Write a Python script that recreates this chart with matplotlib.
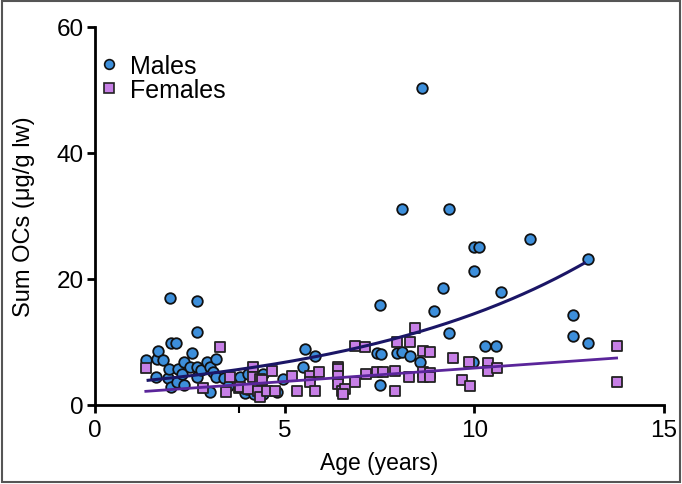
import numpy as np
import matplotlib
matplotlib.use("Agg")
import matplotlib.pyplot as plt
from matplotlib.lines import Line2D
from matplotlib.patches import Rectangle

plt.rcParams['font.family'] = ['Liberation Sans', 'DejaVu Sans']

# ---- data ----
male_age = [1.34, 1.61, 1.64, 1.67, 1.80, 1.92, 1.96, 1.98, 2.00, 2.00, 2.13, 2.15, 2.18,
            2.30, 2.35, 2.35, 2.50, 2.55, 2.68, 2.68, 2.68, 2.68, 2.80, 2.94, 3.03, 3.03,
            3.10, 3.19, 3.20, 3.41, 3.50, 3.82, 3.96, 4.00, 4.04, 4.20, 4.44, 4.44, 4.80,
            4.96, 5.49, 5.54, 5.80, 7.43, 7.51, 7.53, 7.51, 7.95, 8.09, 8.09, 8.30, 8.57,
            8.61, 8.94, 9.18, 9.32, 9.33, 9.97, 10.00, 10.13, 9.99, 10.28, 10.56, 10.70,
            11.47, 12.61, 12.61, 12.99, 12.99]
male_oc = [7.1, 4.5, 7.3, 8.5, 7.1, 4.3, 5.7, 17.0, 9.8, 2.8, 9.8, 3.6, 5.7,
           5.0, 6.8, 3.2, 6.1, 8.25, 16.5, 11.6, 6.1, 4.5, 5.5, 6.9, 6.1, 2.0,
           5.2, 7.3, 4.5, 4.3, 3.0, 4.5, 1.9, 2.5, 4.9, 1.7, 4.9, 1.8, 2.0,
           4.1, 6.0, 8.9, 7.7, 8.2, 15.9, 8.1, 3.1, 8.25, 31.1, 8.4, 7.7, 6.8,
           50.3, 14.9, 18.6, 31.1, 11.4, 6.8, 25.1, 25.1, 21.3, 9.3, 9.3, 17.9,
           26.3, 14.3, 11.0, 9.8, 23.2]

female_age = [1.34, 2.86, 3.30, 3.45, 3.56, 3.79, 3.82, 4.04, 4.16, 4.16, 4.31, 4.35, 4.35,
              4.39, 4.53, 4.66, 4.75, 5.19, 5.32, 5.67, 5.67, 5.80, 5.91, 6.41, 6.41, 6.41,
              6.41, 6.50, 6.59, 6.55, 6.85, 6.85, 7.12, 7.14, 7.43, 7.60, 7.91, 7.91, 7.95,
              8.30, 8.43, 8.28, 8.64, 8.83, 8.64, 8.64, 8.83, 8.83, 9.45, 9.67, 9.89, 9.87,
              10.35, 10.35, 10.60, 13.75, 13.75]
female_oc = [5.8, 2.65, 9.2, 2.0, 4.4, 2.65, 2.8, 2.5, 6.0, 4.4, 2.3, 1.2, 4.1,
             3.9, 2.3, 5.45, 2.3, 4.65, 2.3, 4.65, 3.6, 2.3, 5.2, 6.0, 5.7, 4.65,
             3.3, 2.3, 2.5, 1.75, 9.4, 3.6, 9.2, 4.9, 5.2, 5.2, 2.3, 5.45, 10.0,
             10.0, 12.3, 4.5, 8.5, 8.46, 5.3, 4.5, 5.1, 4.5, 7.4, 3.9, 3.0, 6.8,
             6.7, 5.4, 5.9, 9.3, 3.6]

# fitted curves (parameters read from the drawn fits)
male_fit_a, male_fit_b = 3.17, 0.152          # y = a * exp(b * x)
male_fit_range = (1.40, 12.90)
female_fit_intercept, female_fit_slope = 1.60, 0.426   # y = i + s * x
female_fit_range = (1.34, 13.75)

x_ticks = [0, 5, 10, 15]
x_minor_ticks = [3.8]
y_ticks = [0, 20, 40, 60]

male_color = '#3d8fdb'
female_color = '#c77fe6'
male_line_color = '#1b1666'
female_line_color = '#5a259a'

fig = plt.figure(figsize=(6.82, 4.85), dpi=100)
ax = fig.add_axes([95/682, 79/485, (664-95)/682, (406-28)/485])

ax.scatter(male_age, male_oc, s=58, marker='o', facecolor=male_color,
           edgecolor='#111111', linewidth=1.3, zorder=3, clip_on=False)
ax.scatter(female_age, female_oc, s=56, marker='s', facecolor=female_color,
           edgecolor='#222222', linewidth=1.3, zorder=4, clip_on=False)

xm = np.linspace(*male_fit_range, 200)
ax.plot(xm, male_fit_a * np.exp(male_fit_b * xm), color=male_line_color, lw=2.2, zorder=5)
xf = np.linspace(*female_fit_range, 2)
ax.plot(xf, female_fit_intercept + female_fit_slope * xf, color=female_line_color, lw=2.0, zorder=5)

ax.set_xlim(0, 15)
ax.set_ylim(0, 60)
ax.set_xticks(x_ticks)
ax.set_xticks(x_minor_ticks, minor=True)
ax.set_yticks(y_ticks)
for s in ['top', 'right']:
    ax.spines[s].set_visible(False)
for s in ['left', 'bottom']:
    ax.spines[s].set_linewidth(2.0)
ax.tick_params(axis='both', which='both', direction='out', length=6, width=2.0,
               labelsize=17.5, pad=2)
ax.tick_params(axis='x', which='major', pad=4)
ax.tick_params(axis='x', which='minor', length=6, width=1.5)
ax.set_xlabel('Age (years)', fontsize=16.5, labelpad=7)
ax.set_ylabel('Sum OCs (μg/g lw)', fontsize=17, labelpad=16)

handles = [Line2D([], [], marker='o', ls='', markersize=7, markerfacecolor=male_color,
                  markeredgecolor='#111111', markeredgewidth=1.2),
           Line2D([], [], marker='s', ls='', markersize=7, markerfacecolor=female_color,
                  markeredgecolor='#222222', markeredgewidth=1.2)]
leg = ax.legend(handles, ['Males', 'Females'], loc='upper left', frameon=False,
                fontsize=18, bbox_to_anchor=(-0.028, 0.975), handletextpad=0.35,
                labelspacing=0.0, handlelength=1.0, borderaxespad=0.3)

fig.add_artist(Rectangle((0.003, 0.005), 0.994, 0.99, transform=fig.transFigure,
                         fill=False, edgecolor='#555555', lw=1.5))

fig.savefig('out.png', dpi=100)
